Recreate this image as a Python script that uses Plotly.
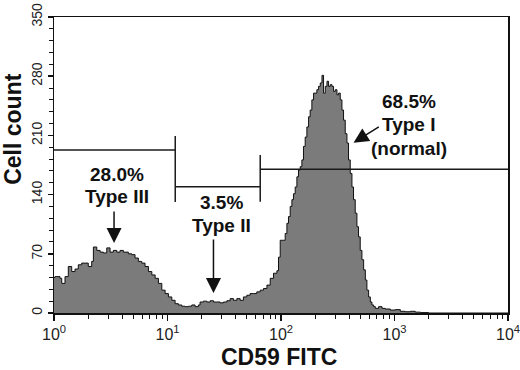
import plotly.graph_objects as go

# ---------------- data ----------------
# log10 of CD59 FITC fluorescence (channel position) and cell counts
log_fl = [0.000, 0.009, 0.053, 0.068, 0.097, 0.126, 0.156, 0.185, 0.214, 0.244,
          0.273, 0.302, 0.332, 0.347, 0.377, 0.406, 0.435, 0.465, 0.494, 0.523,
          0.553, 0.582, 0.611, 0.626, 0.655, 0.685, 0.714, 0.743, 0.773, 0.802,
          0.832, 0.862, 0.891, 0.920, 0.950, 0.979, 1.008, 1.038, 1.067, 1.096,
          1.126, 1.155, 1.184, 1.214, 1.243, 1.272, 1.287, 1.317, 1.347, 1.376,
          1.405, 1.435, 1.464, 1.493, 1.523, 1.552, 1.581, 1.611, 1.640, 1.669,
          1.699, 1.728, 1.758, 1.787, 1.817, 1.846, 1.876, 1.905, 1.934, 1.964,
          1.978, 1.993, 2.022, 2.037, 2.052, 2.066, 2.081, 2.096, 2.110, 2.125,
          2.140, 2.154, 2.169, 2.184, 2.198, 2.213, 2.228, 2.243, 2.257, 2.272,
          2.287, 2.302, 2.316, 2.331, 2.346, 2.361, 2.375, 2.390, 2.405, 2.419,
          2.434, 2.449, 2.463, 2.478, 2.493, 2.507, 2.522, 2.537, 2.551, 2.566,
          2.581, 2.595, 2.610, 2.625, 2.639, 2.654, 2.669, 2.683, 2.698, 2.713,
          2.728, 2.743, 2.757, 2.772, 2.787, 2.801, 2.816, 2.831, 2.860, 2.890,
          2.919, 2.963, 3.007, 3.051, 3.095, 3.139, 3.183, 3.228, 3.300, 4.000]
cell_count = [42, 43, 41, 35, 43, 55, 49, 52, 57, 59,
              59, 55, 61, 78, 74, 72, 71, 77, 72, 74,
              72, 74, 72, 72, 70, 69, 65, 61, 59, 55,
              49, 45, 41, 35, 27, 23, 19, 15, 11, 9.5,
              8, 7.5, 8, 9.5, 7.5, 9.5, 13, 14, 13, 14.5,
              13, 13, 12, 13, 14.5, 17, 15, 17, 15, 19,
              21, 23, 23, 25, 27, 29, 33, 41, 47, 50,
              66, 86, 86, 94, 106, 114, 126, 134, 141, 149,
              161, 169, 173, 181, 197, 208, 220, 232, 240, 252,
              260, 260, 264, 268, 272, 281, 260, 268, 274, 268,
              270, 268, 262, 264, 258, 260, 252, 240, 228, 212,
              201, 181, 165, 149, 134, 118, 102, 90, 74, 63,
              51, 39, 27, 19, 13, 9.5, 7.5, 5.5, 7.5, 5.5,
              4.7, 3.5, 4, 2, 1.5, 2, 1, 0.5, 0, 0]

# gate markers (fluorescence boundaries and gate heights)
gate_edges = [1, 11.7, 65.6, 10000]
gate_levels = [192.7, 149.4, 169.9]
gate_ticks_low = [131.2, 131.6]
gate_ticks_high = [209.3, 186.8]

gate_labels = [["28.0%", "Type III"], ["3.5%", "Type II"], ["68.5%", "Type I", "(normal)"]]

y_ticks = [0, 70, 140, 210, 280, 350]
x_ticks = [1, 10, 100, 1000, 10000]
x_ticktext = ["10<sup>0</sup>", "10<sup>1</sup>", "10<sup>2</sup>", "10<sup>3</sup>", "10<sup>4</sup>"]

# ---------------- figure ----------------
fl = [10 ** v for v in log_fl]
fig = go.Figure()
fig.add_trace(go.Scatter(
    x=fl, y=cell_count, mode="lines", line=dict(color="#111111", width=1, shape="hv"),
    fill="tozeroy", fillcolor="#7b7b7b", hoverinfo="skip", showlegend=False))

line_style = dict(color="#1a1a1a", width=1.5)
# horizontal gate bars
for i, lvl in enumerate(gate_levels):
    fig.add_trace(go.Scatter(x=[gate_edges[i], gate_edges[i + 1]], y=[lvl, lvl], mode="lines",
                             line=line_style, hoverinfo="skip", showlegend=False))
# vertical gate boundaries
for j in range(2):
    fig.add_trace(go.Scatter(x=[gate_edges[j + 1], gate_edges[j + 1]],
                             y=[gate_ticks_low[j], gate_ticks_high[j]], mode="lines",
                             line=line_style, hoverinfo="skip", showlegend=False))

FONT = "Liberation Sans, Arial, sans-serif"
lab_font = dict(family=FONT, size=19, color="#111111")

def txt(x, y, s):
    fig.add_annotation(x=x, y=y, xref="x", yref="y", text="<b>%s</b>" % s,
                       showarrow=False, font=lab_font, xanchor="center", yanchor="middle")

# Type III labels (x in log10 units for annotations)
txt(0.556, 164, gate_labels[0][0])
txt(0.556, 138, gate_labels[0][1])
# Type II
txt(1.473, 131, gate_labels[1][0])
txt(1.479, 104, gate_labels[1][1])
# Type I
txt(3.130, 250, gate_labels[2][0])
txt(3.130, 223, gate_labels[2][1])
txt(3.128, 195, gate_labels[2][2])

def arrow(x_tip, y_tip, x_tail, y_tail):
    fig.add_annotation(x=x_tip, y=y_tip, ax=x_tail, ay=y_tail, xref="x", yref="y",
                       axref="x", ayref="y", text="", showarrow=True, arrowhead=2,
                       arrowsize=2, arrowwidth=1.5, arrowcolor="#111111")

arrow(0.529, 82.8, 0.529, 121.8)
arrow(1.405, 23.6, 1.405, 88.7)
arrow(2.639, 201.4, 2.875, 221.1)

# axis titles
fig.add_annotation(xref="paper", yref="paper", x=-0.092, y=0.623, text="<b>Cell count</b>",
                   textangle=-90, showarrow=False, font=dict(family=FONT, size=23, color="#111111"),
                   xanchor="center", yanchor="middle")
fig.add_annotation(xref="paper", yref="paper", x=0.495, y=-0.1486, text="<b>CD59 FITC</b>",
                   showarrow=False, font=dict(family=FONT, size=23, color="#111111"),
                   xanchor="center", yanchor="middle")

minor_x = [m * 10 ** d for d in range(4) for m in range(2, 10)]

fig.update_layout(
    width=520, height=370,
    margin=dict(l=54, r=12, t=17, b=57, autoexpand=False),
    paper_bgcolor="white", plot_bgcolor="white",
    xaxis=dict(type="log", range=[0, 4], tickvals=x_ticks, ticktext=x_ticktext,
               automargin=False, ticklabeloverflow="allow",
               ticks="outside", ticklen=6, tickwidth=1.5, tickcolor="#111111",
               minor=dict(tickvals=minor_x, ticks="outside", ticklen=4, tickwidth=1, tickcolor="#111111"),
               showline=True, mirror=True, linecolor="#111111", linewidth=1.5,
               showgrid=False, zeroline=False,
               tickfont=dict(family=FONT, size=16, color="#222222")),
    yaxis=dict(range=[0, 350], tickvals=y_ticks, tickangle=-90, automargin=False,
               ticklabeloverflow="allow",
               ticks="outside", ticklen=5, tickwidth=1.5, tickcolor="#111111",
               minor=dict(dtick=14, ticks="outside", ticklen=4, tickwidth=1, tickcolor="#111111"),
               showline=True, mirror=True, linecolor="#111111", linewidth=1.5,
               showgrid=False, zeroline=False,
               tickfont=dict(family=FONT, size=14, color="#222222")),
)

# remove the default 8px page margin so the figure sits at the window's corner
fig.write_html("out.html", config={"displayModeBar": False, "staticPlot": True},
               post_script="document.body.style.margin='0';")
